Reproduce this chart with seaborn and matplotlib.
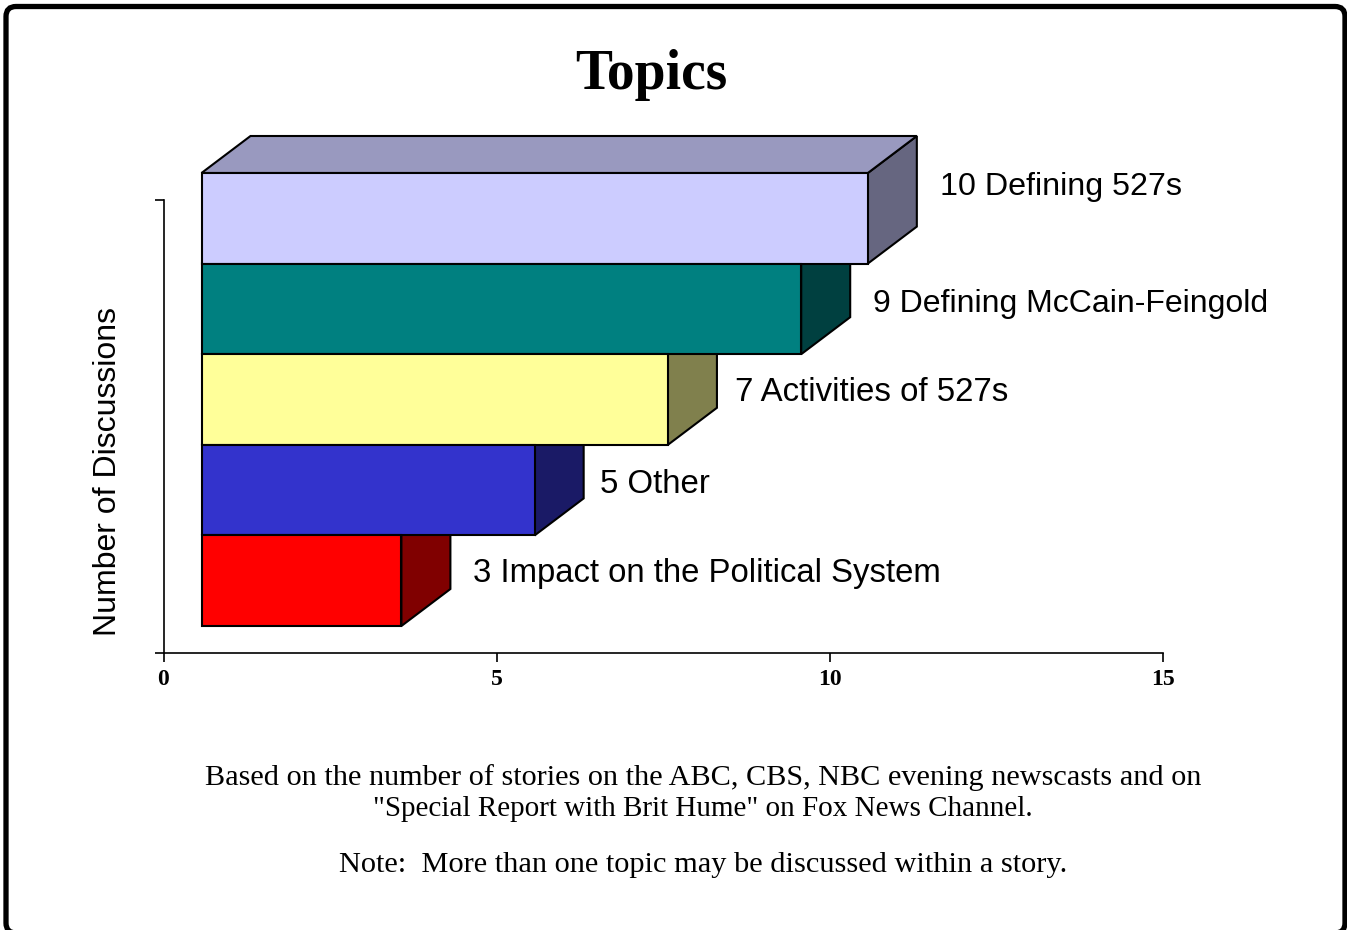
import matplotlib
matplotlib.use("Agg")
import matplotlib.pyplot as plt
import seaborn as sns
from matplotlib.patches import FancyBboxPatch, Polygon
from matplotlib.transforms import Affine2D, IdentityTransform
from matplotlib.colors import to_rgb

# ---- data ----
topics = ["Defining 527s", "Defining McCain-Feingold", "Activities of 527s", "Other",
          "Impact on the Political System"]
counts = [10, 9, 7, 5, 3]
front_colors = ["#CCCCFF", "#008080", "#FFFF99", "#3333CC", "#FF0000"]
x_ticks = [0, 5, 10, 15]
title = "Topics"
y_title = "Number of Discussions"
notes = ['Based on the number of stories on the ABC, CBS, NBC evening newscasts and on',
         '"Special Report with Brit Hume" on Fox News Channel.',
         'Note:  More than one topic may be discussed within a story.']

# ---- layout (pixels) ----
W, H = 1347, 930
AX_L, AX_R, AX_T, AX_B = 163.5, 1163, 200, 653
FRONT_DX, FRONT_DY = 38, 27      # front-face shift away from the axis origin
DEPTH_DX, DEPTH_DY = 49, 37      # extrusion
LABEL_DX = [72, 72, 67, 65, 72]
LABEL_DY = [31, 5, 7, 6, 7]
LABEL_SIZE = [23.2, 23, 23.8, 23.8, 23.7]
NOTE_SIZE = [21.8, 21, 21.9]
PX = 0.72                        # points per pixel at 100 dpi

sns.set_theme(style="white")
fig = plt.figure(figsize=(W / 100, H / 100), dpi=100, facecolor="white")
ax = fig.add_axes([AX_L / W, 1 - AX_B / H, (AX_R - AX_L) / W, (AX_B - AX_T) / H])
ax.set_facecolor("none")

sns.barplot(x=counts, y=topics, hue=topics, palette=front_colors, order=topics,
            hue_order=topics, width=1.0, dodge=False, legend=False, ax=ax,
            edgecolor="black", linewidth=1.5, saturation=1, zorder=5)
ax.set_xlim(0, 15)
ax.set_ylim(4.5, -0.5)

front_shift = Affine2D().translate(FRONT_DX, FRONT_DY)
rects = sorted([p for p in ax.patches if p.get_width() > 0], key=lambda p: p.get_y())
for i, rect in enumerate(rects):
    color = to_rgb(front_colors[i])
    rect.set_transform(ax.transData + front_shift)
    rect.set_clip_on(False)
    rect.set_zorder(5)
    # pixel corners of the front face
    y0, y1 = rect.get_y(), rect.get_y() + rect.get_height()
    xl, yb = ax.transData.transform((rect.get_x(), y1)) + (FRONT_DX, FRONT_DY)
    xr, yt = ax.transData.transform((rect.get_x() + rect.get_width(), y0)) + (FRONT_DX, FRONT_DY)
    side = Polygon([(xr, yb), (xr + DEPTH_DX, yb + DEPTH_DY), (xr + DEPTH_DX, yt + DEPTH_DY), (xr, yt)],
                   transform=IdentityTransform(), facecolor=[c * 0.5 for c in color],
                   edgecolor="black", linewidth=1.5, joinstyle="miter", clip_on=False, zorder=3)
    top = Polygon([(xl, yt), (xl + DEPTH_DX, yt + DEPTH_DY), (xr + DEPTH_DX, yt + DEPTH_DY), (xr, yt)],
                  transform=IdentityTransform(), facecolor=[c * 0.75 for c in color],
                  edgecolor="black", linewidth=1.5, joinstyle="miter", clip_on=False, zorder=3)
    ax.add_artist(side)
    ax.add_artist(top)
    ax.annotate(f"{counts[i]} {topics[i]}", xy=(counts[i], (y0 + y1) / 2), xycoords="data",
                xytext=((FRONT_DX + LABEL_DX[i]) * PX, (LABEL_DY[i] + FRONT_DY) * PX),
                textcoords="offset points", ha="left", va="center", fontsize=LABEL_SIZE[i],
                family="Liberation Sans", color="black", annotation_clip=False)

# axes furniture
sns.despine(ax=ax)
for s in ("left", "bottom"):
    ax.spines[s].set_linewidth(1.2)
    ax.spines[s].set_color("black")
ax.set_xticks(x_ticks)
ax.set_xticklabels([str(t) for t in x_ticks], family="Liberation Serif", fontweight="bold", fontsize=17)
ax.set_yticks([-0.5, 4.5])
ax.set_yticklabels([])
ax.tick_params(axis="both", which="major", length=6.2, width=1.2, color="black", bottom=True, left=True)
ax.tick_params(axis="x", pad=5.2, labelcolor="black")
ax.set_xlabel("")
ax.set_ylabel(y_title, family="Liberation Sans", fontsize=23, color="black")
ax.yaxis.set_label_coords((123.5 - AX_L) / (AX_R - AX_L), (AX_B - 471.5) / (AX_B - AX_T))

# title and footnotes
fig.text(651 / W, 1 - 75 / H, title, ha="center", va="center", family="Liberation Serif",
         fontweight="bold", fontsize=40, color="black")
for txt, size, yc in zip(notes, NOTE_SIZE, (778, 809, 865)):
    fig.text(703 / W, 1 - yc / H, txt, ha="center", va="center", family="Liberation Serif",
             fontsize=size, color="black")

# rounded frame, bottom edge runs off the image
frame = FancyBboxPatch((16, 7), 1319, 906.5, boxstyle="round,pad=10,rounding_size=10",
                       transform=IdentityTransform(), facecolor="none", edgecolor="black",
                       linewidth=3.8, clip_on=True)
fig.add_artist(frame)

fig.savefig("out.png", dpi=100, facecolor="white")
